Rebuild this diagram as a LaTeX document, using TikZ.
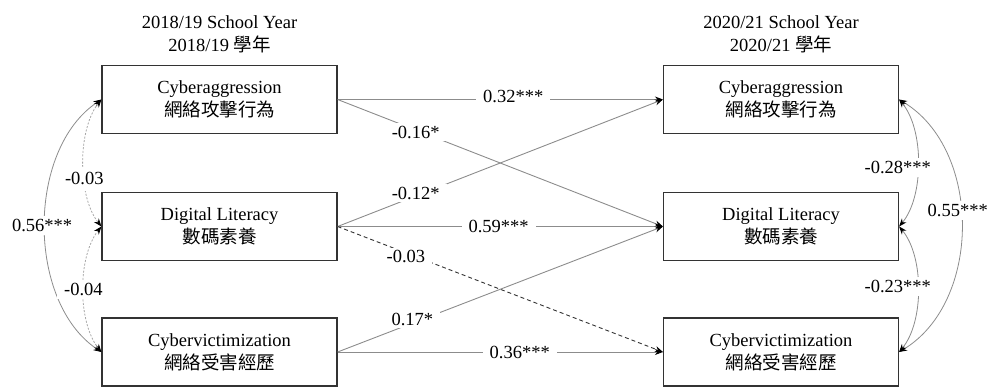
\documentclass[tikz,border=0pt]{standalone}
\usepackage{fontspec}
\setmainfont{Liberation Serif}
\newfontfamily\cjk{Noto Sans CJK TC}
\usetikzlibrary{arrows.meta}
\begin{document}
\begin{tikzpicture}[x=1pt,y=-1pt,
  every node/.style={font=\fontsize{18.5}{23}\selectfont},
  varbox/.style={draw=black!80, line width=1.2pt, minimum width=235pt, minimum height=68pt, align=center, inner sep=0pt},
  title/.style={align=center, inner sep=0pt},
  reg/.style={draw=black!45, line width=0.9pt, -{Stealth[length=8pt,width=6pt,color=black]}},
  corr/.style={draw=black!45, line width=0.8pt, {Stealth[length=8pt,width=6pt,color=black]}-{Stealth[length=8pt,width=6pt,color=black]}},
  finedash/.style={draw=black!35, dash pattern=on 2pt off 1.6pt},
  darkdash/.style={draw=black!80, dash pattern=on 4pt off 3pt},
  lab/.style={fill=white, inner xsep=7pt, inner ysep=3pt}
]
\useasboundingbox (0,0) rectangle (1000,388);

% titles
\node[title] (t1) at (219.5,34) {2018/19 School Year\\2018/19 {\cjk 學年}};
\node[title] (t2) at (781,34) {2020/21 School Year\\2020/21 {\cjk 學年}};

% boxes
\node[varbox] (ca1) at (219.5,99.5) {Cyberaggression\\{\cjk 網絡攻擊行為}};
\node[varbox] (dl1) at (219.5,226.5) {Digital Literacy\\{\cjk 數碼素養}};
\node[varbox] (cv1) at (219.5,352) {Cybervictimization\\{\cjk 網絡受害經歷}};
\node[varbox] (ca2) at (781,99.5) {Cyberaggression\\{\cjk 網絡攻擊行為}};
\node[varbox] (dl2) at (781,226.5) {Digital Literacy\\{\cjk 數碼素養}};
\node[varbox] (cv2) at (781,352) {Cybervictimization\\{\cjk 網絡受害經歷}};

% cross-lagged paths
\draw[reg] (ca1.east) -- node[lab,pos=0.54,yshift=3pt]{0.32***} (ca2.west);
\draw[reg] (ca1.east) -- node[lab,pos=0.24,yshift=-2pt]{-0.16*} (dl2.west);
\draw[reg] (dl1.east) -- node[lab,pos=0.24,yshift=3pt]{-0.12*} (ca2.west);
\draw[reg] (dl1.east) -- node[lab,pos=0.495]{0.59***} (dl2.west);
\draw[reg,darkdash] (dl1.east) -- node[lab,pos=0.21,yshift=-4pt]{-0.03} (cv2.west);
\draw[reg] (cv1.east) -- node[lab,pos=0.23,yshift=4pt]{0.17*} (dl2.west);
\draw[reg] (cv1.east) -- node[lab,pos=0.56]{0.36***} (cv2.west);

% left correlations
\draw[corr] (ca1.west) .. controls +(-75,50) and +(-75,-50) .. (cv1.west)
  node[lab,pos=0.5,xshift=-3pt]{0.56***};
\draw[corr,finedash] (ca1.west) .. controls +(-24,30) and +(-24,-30) .. (dl1.west)
  node[lab,pos=0.61,inner xsep=9pt,inner ysep=6pt]{-0.03};
\draw[corr,finedash] (dl1.west) .. controls +(-24,30) and +(-24,-30) .. (cv1.west)
  node[lab,pos=0.5]{-0.04};

% right correlations
\draw[corr] (ca2.east) .. controls +(83,50) and +(83,-50) .. (cv2.east)
  node[lab,pos=0.45,xshift=-3pt]{0.55***};
\draw[corr] (ca2.east) .. controls +(25,30) and +(25,-30) .. (dl2.east)
  node[lab,pos=0.53,xshift=-20pt]{-0.28***};
\draw[corr] (dl2.east) .. controls +(25,30) and +(25,-30) .. (cv2.east)
  node[lab,pos=0.48,xshift=-20pt]{-0.23***};
\end{tikzpicture}
\end{document}
